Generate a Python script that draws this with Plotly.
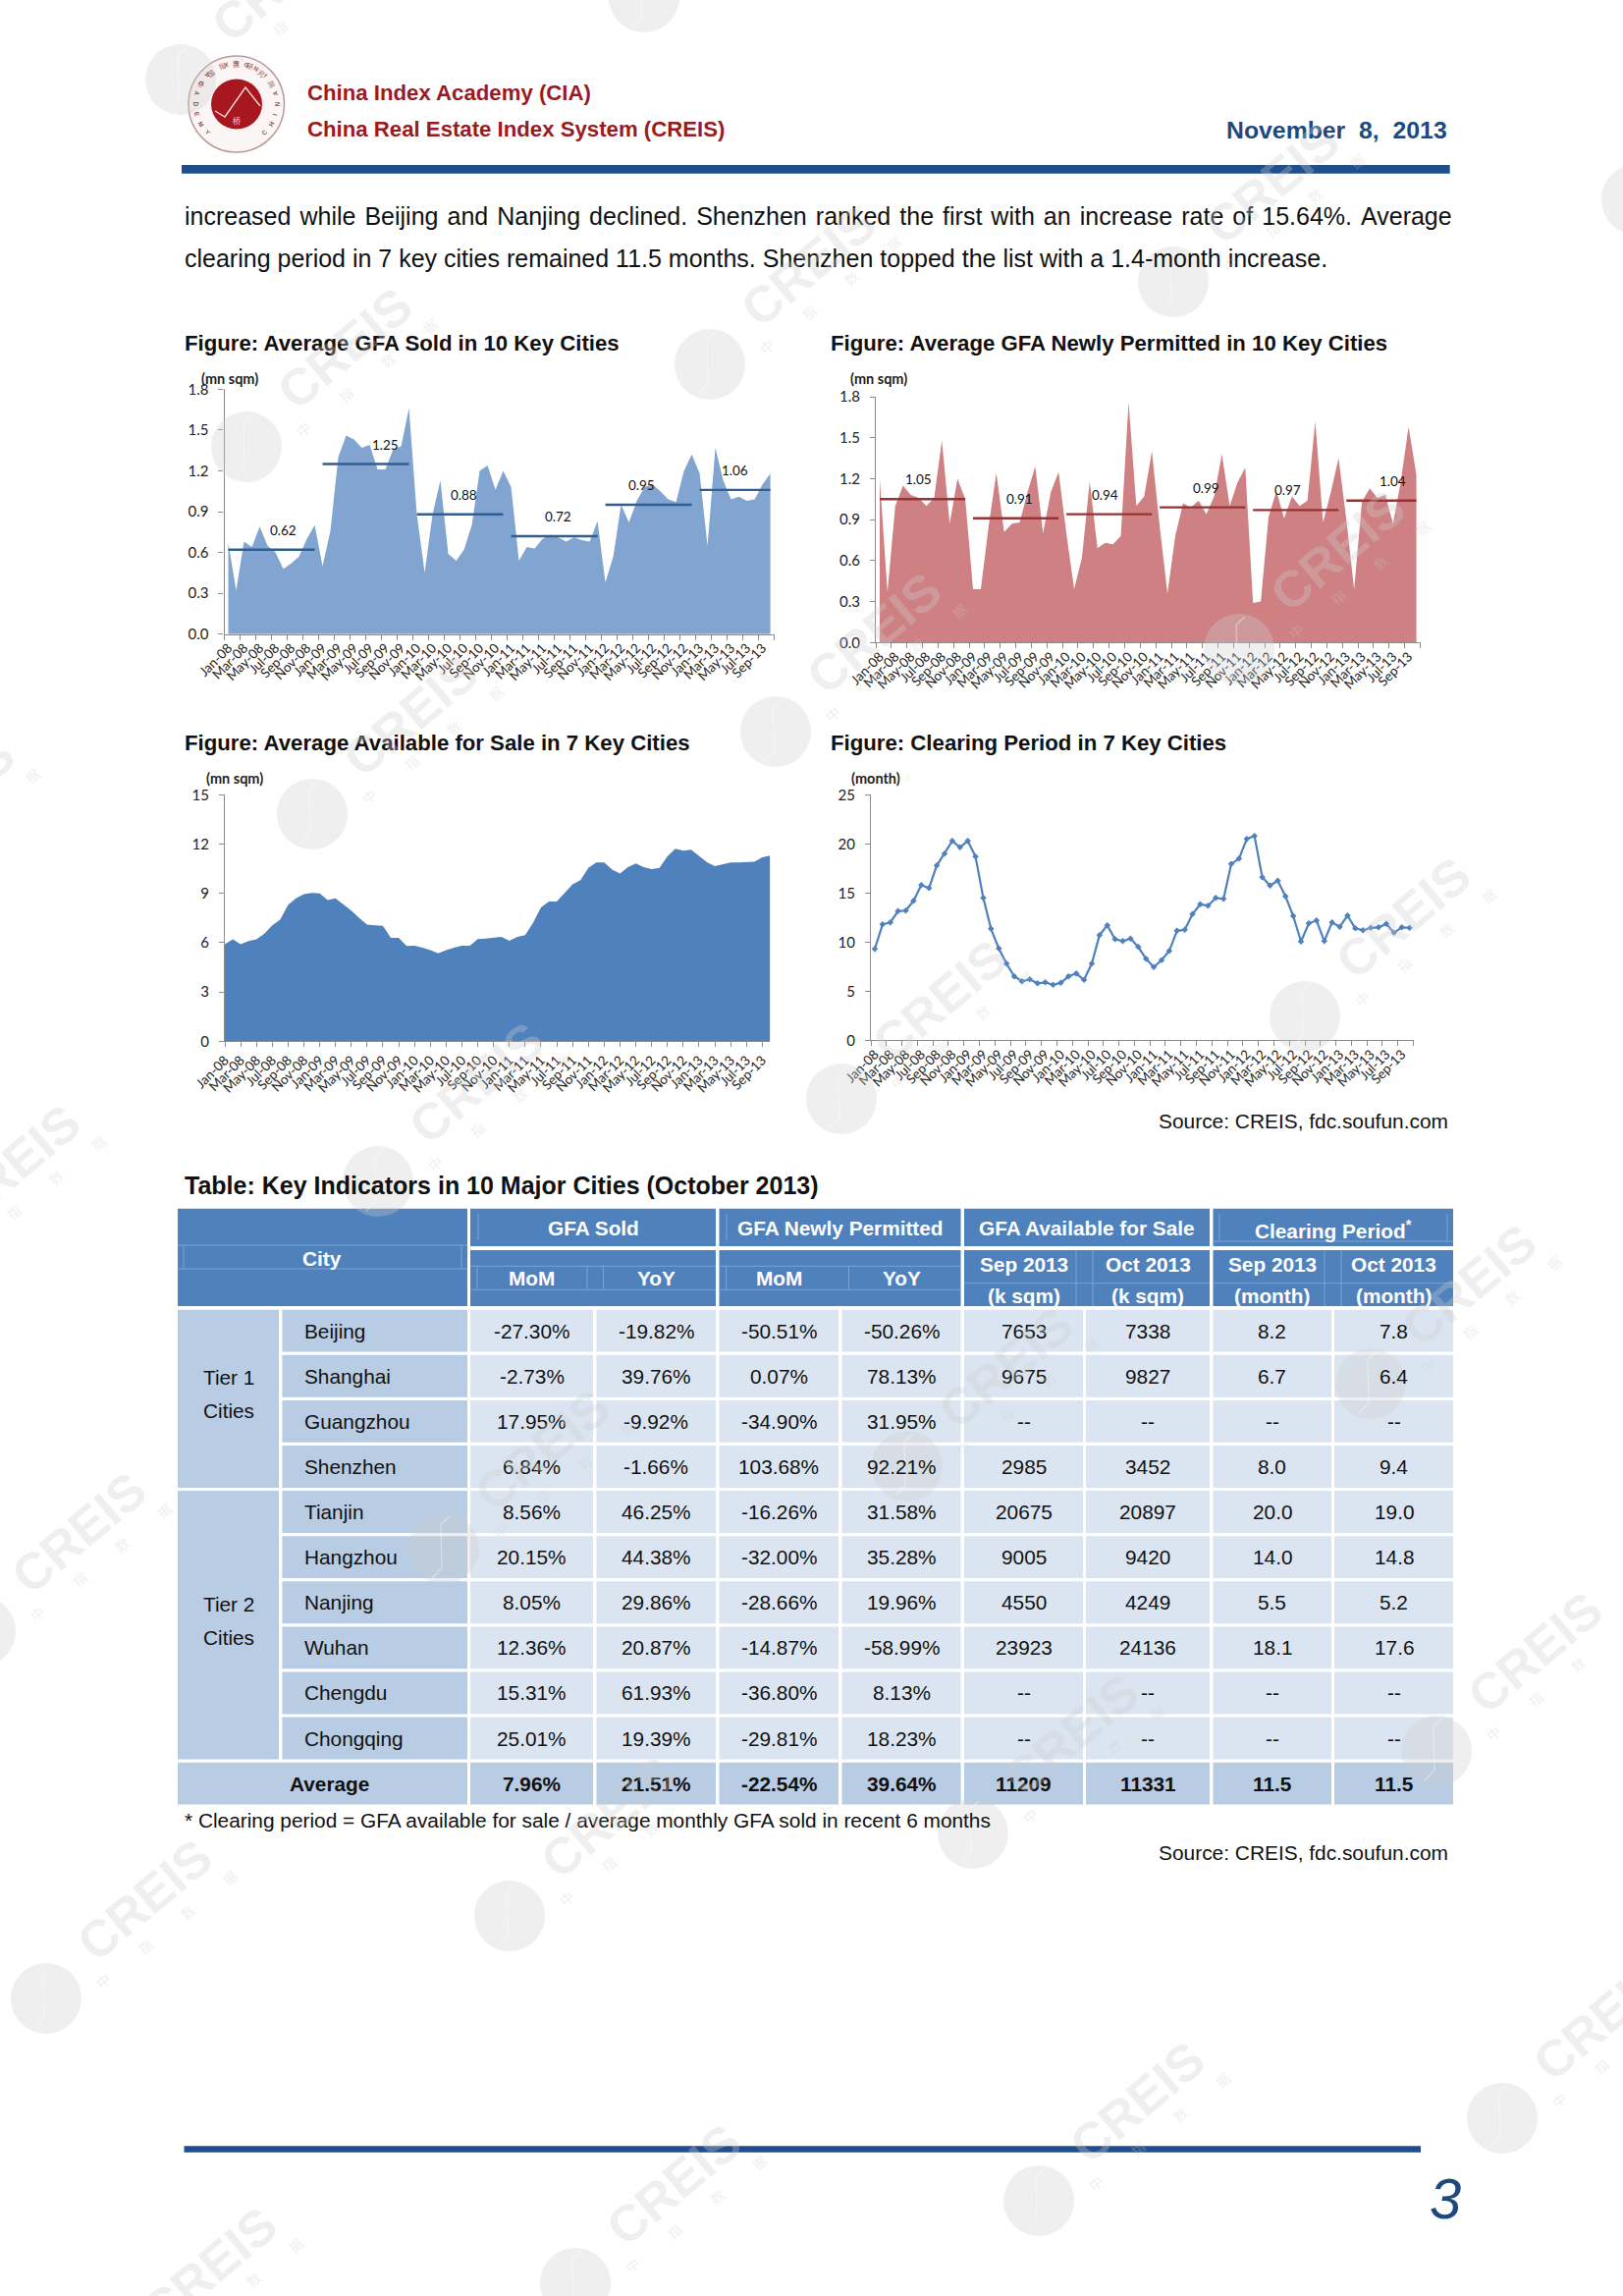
import plotly.graph_objects as go
import math

W, H = 1653, 2338

MONTH_NAMES = ["Jan","Feb","Mar","Apr","May","Jun","Jul","Aug","Sep","Oct","Nov","Dec"]
months = [f"{m}-{y:02d}" for y in range(8, 14) for m in MONTH_NAMES][:70]

gfa_sold = [0.67,0.32,0.68,0.64,0.79,0.65,0.60,0.48,0.52,0.57,0.70,0.80,
            0.50,0.76,1.30,1.46,1.43,1.37,1.39,1.21,1.21,1.36,1.38,1.66,
            0.88,0.45,0.88,1.13,0.59,0.54,0.62,0.80,1.20,1.24,1.06,1.20,
            1.08,0.54,0.64,0.63,0.70,0.73,0.71,0.68,0.71,0.69,0.68,0.83,
            0.38,0.57,0.95,0.82,0.98,1.08,1.10,1.05,0.99,0.97,1.20,1.32,
            1.18,0.65,1.37,1.13,0.99,1.01,0.98,0.99,1.10,1.18]
sold_avg = [0.62,1.25,0.88,0.72,0.95,1.06]
sold_label_at = [7,20,30,42,52.6,64.5]

gfa_permitted = [1.20,0.37,1.00,1.15,1.08,1.06,1.00,1.06,1.48,0.87,1.20,1.05,
                 0.39,0.39,0.85,1.24,0.81,0.87,0.88,1.10,1.29,0.80,1.10,1.25,
                 0.80,0.39,0.62,1.18,0.69,0.73,0.72,0.78,1.76,1.00,1.07,1.40,
                 0.85,0.36,0.78,1.02,0.99,1.04,0.94,1.07,1.38,1.00,1.17,1.28,
                 0.29,0.30,0.92,1.11,0.91,1.07,1.00,1.04,1.62,0.88,1.10,1.35,
                 0.90,0.39,1.03,1.13,1.06,1.08,0.87,1.18,1.58,1.23]
permitted_avg = [1.05,0.91,0.94,0.99,0.97,1.04]
permitted_label_at = [5,18,29,42,52.4,66]

available = [5.9,6.2,5.9,6.1,6.2,6.55,7.05,7.4,8.3,8.7,8.95,9.02,
             9.0,8.6,8.7,8.35,7.95,7.5,7.1,7.05,7.03,6.3,6.3,5.8,
             5.82,5.7,5.55,5.35,5.55,5.7,5.82,5.82,6.22,6.25,6.32,6.36,
             6.12,6.35,6.45,7.2,8.15,8.5,8.5,9.05,9.55,9.8,10.55,10.88,
             10.88,10.45,10.2,10.6,10.82,10.6,10.48,10.55,11.25,11.72,11.6,11.65,
             11.25,10.9,10.65,10.78,10.88,10.88,10.88,10.92,11.2,11.3]

clearing = [9.3,11.8,12.0,13.15,13.2,14.2,15.8,15.5,17.8,19.0,20.3,19.65,
            20.3,18.7,14.5,11.35,9.35,7.8,6.5,6.0,6.2,5.8,5.9,5.65,
            5.85,6.5,6.8,6.15,7.8,10.7,11.7,10.3,10.1,10.35,9.5,8.3,
            7.45,8.15,9.1,11.15,11.25,12.85,13.85,13.7,14.5,14.4,17.95,18.5,
            20.5,20.8,16.6,15.75,16.25,14.65,12.65,10.05,11.9,12.2,10.1,12.0,
            11.55,12.7,11.4,11.2,11.45,11.5,11.85,10.95,11.5,11.45]

cities = ["Beijing","Shanghai","Guangzhou","Shenzhen","Tianjin","Hangzhou","Nanjing","Wuhan","Chengdu","Chongqing","Average"]
sold_mom = ["-27.30%","-2.73%","17.95%","6.84%","8.56%","20.15%","8.05%","12.36%","15.31%","25.01%","7.96%"]
sold_yoy = ["-19.82%","39.76%","-9.92%","-1.66%","46.25%","44.38%","29.86%","20.87%","61.93%","19.39%","21.51%"]
perm_mom = ["-50.51%","0.07%","-34.90%","103.68%","-16.26%","-32.00%","-28.66%","-14.87%","-36.80%","-29.81%","-22.54%"]
perm_yoy = ["-50.26%","78.13%","31.95%","92.21%","31.58%","35.28%","19.96%","-58.99%","8.13%","18.23%","39.64%"]
avail_sep = ["7653","9675","--","2985","20675","9005","4550","23923","--","--","11209"]
avail_oct = ["7338","9827","--","3452","20897","9420","4249","24136","--","--","11331"]
clear_sep = ["8.2","6.7","--","8.0","20.0","14.0","5.5","18.1","--","--","11.5"]
clear_oct = ["7.8","6.4","--","9.4","19.0","14.8","5.2","17.6","--","--","11.5"]
table_columns = [sold_mom, sold_yoy, perm_mom, perm_yoy, avail_sep, avail_oct, clear_sep, clear_oct]

SANS = "Liberation Sans"
CHART_FONT = "Lato"
NAVY = "#1F497D"
RED = "#9A1B1F"
HEAD = "#4F81BD"
MID = "#B8CCE4"
LIGHT = "#DBE5F1"
AXIS = "#8C8C8C"
CELL = 20.8

def px(x): return x / W
def py(y): return 1 - y / H

annotations, shapes = [], []

def text(x, y, s, size, color="#111111", anchor="left", family=SANS, angle=0, valign="middle"):
    annotations.append(dict(x=px(x), y=py(y), xref="paper", yref="paper", text=s, showarrow=False,
             xanchor=anchor, yanchor=valign, textangle=angle, borderpad=0,
             font=dict(family=family, size=size, color=color)))

def rect(x0, y0, x1, y1, fill, layer="below"):
    shapes.append(dict(type="rect", xref="paper", yref="paper", x0=px(x0), x1=px(x1),
                       y0=py(y0), y1=py(y1), fillcolor=fill, line=dict(width=0), layer=layer))

def line(x0, y0, x1, y1, color, width=1, layer="below"):
    shapes.append(dict(type="line", xref="paper", yref="paper", x0=px(x0), x1=px(x1),
                       y0=py(y0), y1=py(y1), line=dict(color=color, width=width), layer=layer))

fig = go.Figure()

panels = [
    dict(box=(228.5, 788.6, 396.3, 645.7), ymax=1.8, dtick=0.3, fmt=".1f", between=True),
    dict(box=(892.0, 1446.5, 404.0, 654.3), ymax=1.8, dtick=0.3, fmt=".1f", between=True),
    dict(box=(229.0, 784.4, 809.3, 1060.3), ymax=15, dtick=3, fmt="d", between=False),
    dict(box=(887.0, 1439.5, 809.3, 1059.3), ymax=25, dtick=5, fmt="d", between=True),
]
layout_axes = {}
for i, p in enumerate(panels, start=1):
    l, r, t, b = p["box"]
    xa = dict(domain=[px(l), px(r)], anchor=f"y{i}", type="category",
              categoryorder="array", categoryarray=months,
              showline=True, linecolor=AXIS, linewidth=1.2, ticks="outside", tickcolor=AXIS,
              ticklen=5, tickwidth=1, tickangle=-45, showgrid=False, zeroline=False,
              tick0=0, dtick=2, tickfont=dict(family=CHART_FONT, size=13.5, color="#222222"))
    if p["between"]:
        xa.update(range=[-0.5, 69.5], tickson="boundaries")
    else:
        xa.update(range=[0, 69])
    ya = dict(domain=[py(b), py(t)], anchor=f"x{i}", range=[0, p["ymax"]], dtick=p["dtick"],
              tick0=0, tickformat=p["fmt"], showline=True, linecolor=AXIS, linewidth=1.2,
              ticks="outside", tickcolor=AXIS, ticklen=5, showgrid=False, zeroline=False,
              ticklabelstandoff=7, tickfont=dict(family=CHART_FONT, size=15, color="#222222"))
    layout_axes["xaxis" + ("" if i == 1 else str(i))] = xa
    layout_axes["yaxis" + ("" if i == 1 else str(i))] = ya

def area(series, color, n):
    fig.add_trace(go.Scatter(x=months, y=series, mode="lines", fill="tozeroy", fillcolor=color,
                             line=dict(width=0, color=color), xaxis=f"x{n}", yaxis=f"y{n}",
                             showlegend=False, hoverinfo="skip"))

def yearly(avgs, color, n, label_at):
    for k, v in enumerate(avgs):
        fig.add_trace(go.Scatter(x=months[12*k:12*k+12], y=[v]*12, mode="lines",
                                 line=dict(color=color, width=2.4), xaxis=f"x{n}", yaxis=f"y{n}",
                                 showlegend=False, hoverinfo="skip"))
        annotations.append(dict(x=label_at[k], y=v, xref=f"x{n}", yref=f"y{n}", text=f"{v:.2f}",
                                showarrow=False, yshift=20, yanchor="middle",
                                font=dict(family=CHART_FONT, size=13.5, color="#111111")))

area(gfa_sold, "#82A4D0", 1)
yearly(sold_avg, "#2F5F90", 1, sold_label_at)
area(gfa_permitted, "#CF8082", 2)
yearly(permitted_avg, "#953335", 2, permitted_label_at)
area(available, "#4F81BD", 3)
fig.add_trace(go.Scatter(x=months, y=clearing, mode="lines+markers",
                         line=dict(color="#4F81BD", width=2.2),
                         marker=dict(symbol="diamond", size=5, color="#4F81BD"),
                         xaxis="x4", yaxis="y4", showlegend=False, hoverinfo="skip"))

# ---- page header
shapes.append(dict(type="circle", xref="paper", yref="paper", x0=px(192), x1=px(289.5),
                   y0=py(155), y1=py(57), fillcolor="#FBF6F5",
                   line=dict(color="#B99A98", width=1.5), layer="below"))
shapes.append(dict(type="circle", xref="paper", yref="paper", x0=px(215), x1=px(267),
                   y0=py(131.5), y1=py(80.5), fillcolor="#A81620", line=dict(width=0), layer="below"))
zig = [(219, 113), (229, 119), (250, 89), (265, 108)]
shapes.append(dict(type="path", xref="paper", yref="paper",
                   path="M " + " L ".join(f"{px(a)},{py(b)}" for a, b in zig),
                   line=dict(color="#F3D9D6", width=1.4), layer="below"))
text(240.5, 122, "桥", 8, "#F3D9D6", "center", "Noto Sans CJK SC")
for ch, deg in zip("中国指数研究院", [-60, -40, -20, 0, 20, 40, 60]):
    a = math.radians(deg)
    text(240.5 + 41*math.sin(a), 106 - 41*math.cos(a), ch, 7, "#9C5A5A", "center",
         "Noto Sans CJK SC", angle=deg)
for ch, deg in zip("CHINA INDEX ACADEMY", range(-135+270, -135+270-272, -15)):
    if ch == " ":
        continue
    a = math.radians(deg)
    text(240.5 + 41*math.sin(a), 106 - 41*math.cos(a), f"<b>{ch}</b>", 6.5, "#8C5A5A", "center",
         angle=deg - 180)

text(311.5, 94, "<b>China Index Academy (CIA)</b>", 22.2, RED)
text(311.5, 131.7, "<b>China Real Estate Index System (CREIS)</b>", 22.2, RED)
text(1475, 133, "<b>November  8,  2013</b>", 24.8, NAVY, "right")
rect(185, 168, 1476.7, 176.7, "#1F4E8C")

line1 = "increased while Beijing and Nanjing declined. Shenzhen ranked the first with an increase rate of 15.64%. Average"
text(186.5, 220, line1.replace(" ", " \u200a"), 25, "#111111")
text(186.5, 262.7, "clearing period in 7 key cities remained 11.5 months. Shenzhen topped the list with a 1.4-month increase.", 25, "#111111")

text(187, 350, "<b>Figure: Average GFA Sold in 10 Key Cities</b>", 22.2)
text(844.5, 350, "<b>Figure: Average GFA Newly Permitted in 10 Key Cities</b>", 22.2)
text(187, 756.7, "<b>Figure: Average Available for Sale in 7 Key Cities</b>", 22.2)
text(844.5, 756.7, "<b>Figure: Clearing Period in 7 Key Cities</b>", 22.2)
text(234, 385, "<b>(mn sqm)</b>", 14.5, "#222222", "center", CHART_FONT)
text(895, 385, "<b>(mn sqm)</b>", 14.5, "#222222", "center", CHART_FONT)
text(239, 792.5, "<b>(mn sqm)</b>", 14.5, "#222222", "center", CHART_FONT)
text(892, 792.5, "<b>(month)</b>", 14.5, "#222222", "center", CHART_FONT)
text(1475.5, 1141, "Source: CREIS, fdc.soufun.com", 20.9, "#111111", "right")

# ---- table
text(186.5, 1206.7, "<b>Table: Key Indicators in 10 Major Cities (October 2013)</b>", 25)

col_l = [479, 607.5, 732.5, 857.5, 982, 1106, 1235.5, 1359]
col_r = [604, 729, 854, 978.5, 1103, 1232, 1356, 1480]
T_LEFT, T_TIER, T_CITY, T_RIGHT = 181, 284, 476, 1480
HEAD_TOP, HEAD_MID1, HEAD_MID2, HEAD_BOTTOM = 1230.7, 1269, 1273, 1330
ROW0, PITCH, ROW_H = 1333.7, 46.1, 42.9

def row_top(i): return ROW0 + PITCH * i
def row_bottom(i): return row_top(i) + ROW_H

rect(T_LEFT, HEAD_TOP, T_CITY, HEAD_BOTTOM, HEAD)
groups = [(0, 1, "<b>GFA Sold</b>", 1250), (2, 3, "<b>GFA Newly Permitted</b>", 1250),
          (4, 5, "<b>GFA Available for Sale</b>", 1250),
          (6, 7, "<b>Clearing Period<sup>*</sup></b>", 1251.7)]
for a, b, label, ty in groups:
    rect(col_l[a], HEAD_TOP, col_r[b], HEAD_MID1, HEAD)
    rect(col_l[a], HEAD_MID2, col_r[b], HEAD_BOTTOM, HEAD)
    text((col_l[a] + col_r[b]) / 2, ty, label, CELL, "#FFFFFF", "center")

GRID = "#7BA3D6"
line(T_LEFT, 1268, T_CITY, 1268, GRID); line(T_LEFT, 1292, T_CITY, 1292, GRID)
line(187, 1268, 187, 1292, GRID); line(470, 1268, 470, 1292, GRID)
for a, b in [(0, 1), (2, 3)]:
    line(col_l[a], 1289.3, col_r[b], 1289.3, GRID); line(col_l[a], 1313.3, col_r[b], 1313.3, GRID)
    for k in (a, b):
        line(col_l[k] + 7, 1289.3, col_l[k] + 7, 1313.3, GRID)
line(col_r[0] - 6, 1289.3, col_r[0] - 6, 1313.3, GRID)
for a, b in [(4, 5), (6, 7)]:
    line(col_l[a], 1306.7, col_r[b], 1306.7, GRID)
    line(col_r[a] - 7, 1273, col_r[a] - 7, 1330, GRID)
    line(col_l[b] + 7, 1273, col_l[b] + 7, 1330, GRID)
for x in (487, 740):
    line(x, 1236, x, 1263, GRID)
line(1242, 1236, 1242, 1263, GRID); line(1474, 1236, 1474, 1263, GRID)
line(1235.5, 1264, 1480, 1264, GRID)

text(328, 1281, "<b>City</b>", CELL, "#FFFFFF", "center")
for k, label in enumerate(["MoM", "YoY", "MoM", "YoY"]):
    text((col_l[k] + col_r[k]) / 2, 1301.3, f"<b>{label}</b>", CELL, "#FFFFFF", "center")
for k, (top, bottom) in enumerate([("Sep 2013", "(k sqm)"), ("Oct 2013", "(k sqm)"),
                                   ("Sep 2013", "(month)"), ("Oct 2013", "(month)")], start=4):
    c = (col_l[k] + col_r[k]) / 2
    text(c, 1287.7, f"<b>{top}</b>", CELL, "#FFFFFF", "center")
    text(c, 1319, f"<b>{bottom}</b>", CELL, "#FFFFFF", "center")

rect(T_LEFT, row_top(0), T_TIER, row_bottom(3), MID)
rect(T_LEFT, row_top(4), T_TIER, row_bottom(9), MID)
rect(T_LEFT, row_top(10), T_CITY, row_bottom(10), MID)
text(232.5, 1402.7, "Tier 1", CELL, "#111111", "center")
text(232.5, 1436.7, "Cities", CELL, "#111111", "center")
text(232.5, 1633, "Tier 2", CELL, "#111111", "center")
text(232.5, 1667, "Cities", CELL, "#111111", "center")

for i, name in enumerate(cities):
    cy = row_top(i) + ROW_H / 2
    avg = name == "Average"
    if avg:
        text(335.5, cy, f"<b>{name}</b>", CELL, "#111111", "center")
    else:
        rect(T_TIER + 3.4, row_top(i), T_CITY, row_bottom(i), MID)
        text(308.8, cy, name, CELL, "#111111")
    for k, column in enumerate(table_columns):
        rect(col_l[k], row_top(i), col_r[k], row_bottom(i), MID if avg else LIGHT)
        v = column[i]
        text((col_l[k] + col_r[k]) / 2, cy, f"<b>{v}</b>" if avg else v, CELL, "#111111", "center")

text(186.5, 1853, "* Clearing period = GFA available for sale / average monthly GFA sold in recent 6 months", 20.85, "#111111")
text(1475.5, 1886.7, "Source: CREIS, fdc.soufun.com", 20.9, "#111111", "right")

# ---- footer
rect(187.5, 2185.3, 1447, 2191.7, "#1F4E8C")
text(1472, 2238, "<i>3</i>", 58, NAVY, "center")

# ---- CREIS watermark lattice
WM = "rgba(205,205,205,0.32)"
for col in range(-1, 4):
    for row in range(-2, 7):
        cx = 251 + 472 * col + 67 * row
        cy = 455 - 84 * col + 374 * row
        if -40 < cx < W + 40 and -40 < cy < H + 40:
            shapes.append(dict(type="circle", xref="paper", yref="paper", x0=px(cx-36), x1=px(cx+36),
                               y0=py(cy+36), y1=py(cy-36), fillcolor=WM, line=dict(width=0), layer="above"))
            shapes.append(dict(type="path", xref="paper", yref="paper",
                               path=f"M {px(cx+6)},{py(cy-33)} L {px(cx-3)},{py(cy-25)} L {px(cx-2)},{py(cy+20)} L {px(cx-12)},{py(cy+30)}",
                               line=dict(color="rgba(255,255,255,0.4)", width=1.2), layer="above"))
        tx, ty = cx + 100, cy - 100
        if -60 < tx < W + 60 and -60 < ty < H + 60:
            text(tx, ty, "<b>CREIS</b>", 52, WM, "center", "Liberation Sans", angle=-40)
        for j, ch in enumerate("中指数据"):
            ux, uy = cx + 58 + 43*j, cy - 18 - 35*j
            if 10 < ux < W - 10 and 10 < uy < H - 10:
                text(ux, uy, ch, 14, WM, "center", "Noto Sans CJK SC", angle=-40)

fig.update_layout(width=W, height=H, margin=dict(l=0, r=0, t=0, b=0, pad=0, autoexpand=False), autosize=False,
                  paper_bgcolor="#FFFFFF", plot_bgcolor="rgba(0,0,0,0)", showlegend=False,
                  annotations=annotations, shapes=shapes, **layout_axes)
fig.write_html("out.html", config=dict(displayModeBar=False),
               post_script="document.body.style.margin='0';document.documentElement.style.overflow='hidden';")
